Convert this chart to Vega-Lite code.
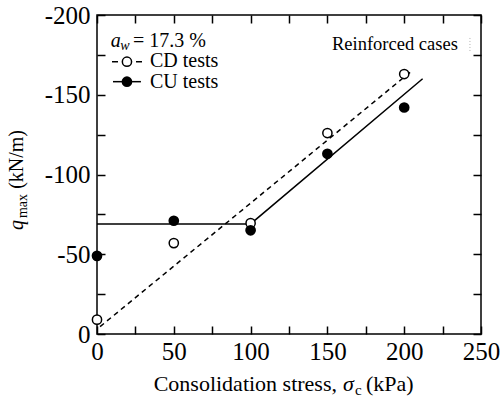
{
  "$schema": "https://vega.github.io/schema/vega-lite/v6.json",
  "width": 384,
  "height": 319,
  "autosize": {"type": "none"},
  "padding": {"left": 97, "top": 15, "right": 19, "bottom": 64},
  "background": "white",
  "config": {
    "view": {"stroke": "black", "strokeWidth": 1.5},
    "font": "Liberation Serif",
    "text": {"font": "Liberation Serif", "color": "black"}
  },
  "encoding": {
    "x": {"field": "sigma", "type": "quantitative", "scale": {"domain": [0, 250]}, "axis": null},
    "y": {"field": "q", "type": "quantitative", "scale": {"domain": [-200, 0], "reverse": true}, "axis": null}
  },
  "layer": [
    {
      "data": {"values": [{"sigma": 2, "q": -4.6}, {"sigma": 205, "q": -165}]},
      "mark": {"type": "line", "strokeDash": [5, 4], "strokeWidth": 1.5, "color": "black"},
      "encoding": {
        "x": {"field": "sigma", "type": "quantitative", "scale": {"domain": [0, 250]},
          "axis": {"orient": "bottom", "values": [0, 25, 50, 75, 100, 125, 150, 175, 200, 225, 250],
            "labelExpr": "datum.value % 50 === 0 ? datum.label : ''", "tickSize": -8, "tickWidth": 1.5, "tickColor": "black",
            "domain": false, "grid": false, "labelFont": "Liberation Serif", "labelFontSize": 25, "labelColor": "black",
            "labelPadding": 13, "title": null, "labelFlush": false, "labelOverlap": false}},
        "y": {"field": "q", "type": "quantitative", "scale": {"domain": [-200, 0], "reverse": true},
          "axis": {"orient": "left", "values": [0, -25, -50, -75, -100, -125, -150, -175, -200],
            "labelExpr": "datum.value % 50 === 0 ? (datum.value === 0 ? '0' : '-' + (-datum.value)) : ''",
            "tickSize": -8, "tickWidth": 1.5, "tickColor": "black", "domain": false, "grid": false,
            "labelFont": "Liberation Serif", "labelFontSize": 25, "labelColor": "black", "labelPadding": 15,
            "title": null, "labelFlush": false, "labelOverlap": false}}
      }
    },
    {
      "data": {"values": [{"sigma": 0, "q": -69}, {"sigma": 100, "q": -69}, {"sigma": 212, "q": -160}]},
      "mark": {"type": "line", "strokeWidth": 1.5, "color": "black"},
      "encoding": {
        "x": {"field": "sigma", "type": "quantitative", "scale": {"domain": [0, 250]},
          "axis": {"orient": "top", "values": [0, 25, 50, 75, 100, 125, 150, 175, 200, 225, 250],
            "labels": false, "tickSize": -8, "tickWidth": 1.5, "tickColor": "black", "domain": false, "grid": false, "title": null}},
        "y": {"field": "q", "type": "quantitative", "scale": {"domain": [-200, 0], "reverse": true},
          "axis": {"orient": "right", "values": [0, -25, -50, -75, -100, -125, -150, -175, -200],
            "labels": false, "tickSize": -8, "tickWidth": 1.5, "tickColor": "black", "domain": false, "grid": false, "title": null}}
      }
    },
    {
      "data": {"values": [
        {"seg": "left", "sigma": 9.77, "q": -170.7}, {"seg": "left", "sigma": 13.67, "q": -170.7},
        {"seg": "right", "sigma": 25.4, "q": -170.7}, {"seg": "right", "sigma": 29.3, "q": -170.7}
      ]},
      "mark": {"type": "line", "strokeWidth": 1.5, "color": "black"},
      "encoding": {"detail": {"field": "seg"}}
    },
    {
      "data": {"values": [{"sigma": 10.4, "q": -158.2}, {"sigma": 28.6, "q": -158.2}]},
      "mark": {"type": "line", "strokeWidth": 1.5, "color": "black"}
    },
    {
      "data": {"values": [
        {"sigma": 0, "q": -9}, {"sigma": 50, "q": -57}, {"sigma": 100, "q": -69.5},
        {"sigma": 150, "q": -126}, {"sigma": 200, "q": -163}, {"sigma": 19.5, "q": -170.7}
      ]},
      "mark": {"type": "point", "shape": "circle", "filled": false, "fill": "white", "fillOpacity": 1, "size": 85, "stroke": "black", "strokeWidth": 1.5, "opacity": 1}
    },
    {
      "data": {"values": [
        {"sigma": 0, "q": -49}, {"sigma": 50, "q": -71}, {"sigma": 100, "q": -65},
        {"sigma": 150, "q": -113}, {"sigma": 200, "q": -142}, {"sigma": 19.5, "q": -158.2}
      ]},
      "mark": {"type": "point", "shape": "circle", "filled": true, "size": 115, "color": "black", "opacity": 1}
    },
    {
      "data": {"values": [{"sigma": 242.8, "q": -185.6, "q2": -176.8}]},
      "mark": {"type": "rule", "color": "#b0b0b0", "strokeDash": [1, 2], "strokeWidth": 1},
      "encoding": {"y2": {"field": "q2"}}
    },
    {
      "data": {"values": [
        {"sigma": 23.4, "q": -180.1, "label": "= 17.3 %"},
        {"sigma": 34.5, "q": -167.6, "label": "CD tests"},
        {"sigma": 34.5, "q": -154, "label": "CU tests"}
      ]},
      "mark": {"type": "text", "align": "left", "baseline": "alphabetic", "fontSize": 20},
      "encoding": {"text": {"field": "label"}}
    },
    {
      "data": {"values": [{"sigma": 9, "q": -180.1, "label": "a"}]},
      "mark": {"type": "text", "align": "left", "baseline": "alphabetic", "fontSize": 20, "fontStyle": "italic"},
      "encoding": {"text": {"field": "label"}}
    },
    {
      "data": {"values": [{"sigma": 15.2, "q": -178, "label": "w"}]},
      "mark": {"type": "text", "align": "left", "baseline": "alphabetic", "fontSize": 14, "fontStyle": "italic"},
      "encoding": {"text": {"field": "label"}}
    },
    {
      "data": {"values": [{"sigma": 153, "q": -178, "label": "Reinforced cases"}]},
      "mark": {"type": "text", "align": "left", "baseline": "alphabetic", "fontSize": 18.5},
      "encoding": {"text": {"field": "label"}}
    },
    {
      "data": {"values": [{"sigma": 156.25, "q": 35.7, "label": "Consolidation stress,"}]},
      "mark": {"type": "text", "align": "right", "baseline": "alphabetic", "fontSize": 22},
      "encoding": {"text": {"field": "label"}}
    },
    {
      "data": {"values": [{"sigma": 160.2, "q": 35.7, "label": "σ"}]},
      "mark": {"type": "text", "align": "left", "baseline": "alphabetic", "fontSize": 22, "fontStyle": "italic"},
      "encoding": {"text": {"field": "label"}}
    },
    {
      "data": {"values": [{"sigma": 168, "q": 38.4, "label": "c"}]},
      "mark": {"type": "text", "align": "left", "baseline": "alphabetic", "fontSize": 15},
      "encoding": {"text": {"field": "label"}}
    },
    {
      "data": {"values": [{"sigma": 175.1, "q": 35.7, "label": "(kPa)"}]},
      "mark": {"type": "text", "align": "left", "baseline": "alphabetic", "fontSize": 22},
      "encoding": {"text": {"field": "label"}}
    },
    {
      "data": {"values": [{"sigma": -48.2, "q": -65.2, "label": "q"}]},
      "mark": {"type": "text", "align": "left", "baseline": "alphabetic", "fontSize": 20, "fontStyle": "italic", "angle": 270},
      "encoding": {"text": {"field": "label"}}
    },
    {
      "data": {"values": [{"sigma": -45.6, "q": -72.7, "label": "max"}]},
      "mark": {"type": "text", "align": "left", "baseline": "alphabetic", "fontSize": 14, "angle": 270},
      "encoding": {"text": {"field": "label"}}
    },
    {
      "data": {"values": [{"sigma": -48.2, "q": -91, "label": "(kN/m)"}]},
      "mark": {"type": "text", "align": "left", "baseline": "alphabetic", "fontSize": 20, "angle": 270},
      "encoding": {"text": {"field": "label"}}
    }
  ]
}
